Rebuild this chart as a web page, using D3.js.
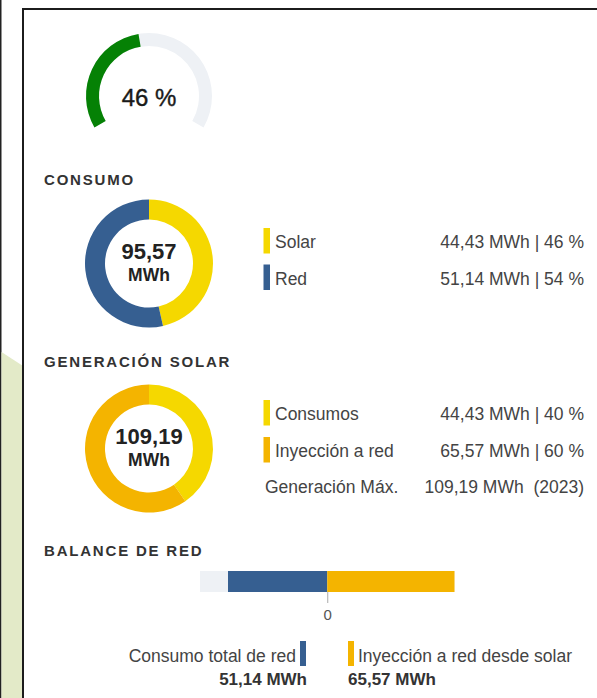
<!DOCTYPE html>
<html>
<head>
<meta charset="utf-8">
<style>
    body { margin: 0; background: #fff; }
    svg { display: block; font-family: Arial, 'Liberation Sans', sans-serif; }
    .heading { font-size: 15px; font-weight: bold; letter-spacing: 1.8px; fill: #333; }
    .lbl { font-size: 17.5px; fill: #444; }
    .center-val { font-weight: bold; fill: #222; text-anchor: middle; }
    .axis .domain { display: none; }
    .axis .tick line { stroke: #aaa; }
</style>
</head>
<body>
<svg width="597" height="698"></svg>
<script src="https://d3js.org/d3.v7.min.js"></script>
<script>
// data
const gaugeValue = 46;

const consumoLabels = ["Solar", "Red"];
const consumoValues = [44.43, 51.14];
const consumoPct = [46, 54];
const consumoTotal = 95.57;

const genLabels = ["Consumos", "Inyección a red"];
const genValues = [44.43, 65.57];
const genPct = [40, 60];
const genTotal = 109.19;
const genMax = 109.19;
const genMaxYear = 2023;

const balanceLabels = ["Consumo total de red", "Inyección a red desde solar"];
const balanceValues = [-51.14, 65.57];
const balanceTicks = [0];

const headings = ["CONSUMO", "GENERACIÓN SOLAR", "BALANCE DE RED"];

const blue = "#365f91", yellow = "#f5d800", orange = "#f4b400", track = "#eef1f5";

const es = d3.formatLocale({ decimal: ",", thousands: ".", grouping: [3], currency: ["", "€"] });
const f2 = es.format(".2f");

const svg = d3.select("svg");

// page frame
svg.append("rect").attr("x", 0).attr("y", 0).attr("width", 1.5).attr("height", 698).attr("fill", "#222");
svg.append("path")
    .attr("d", "M1.5,352 L23,366 L23,698 L1.5,698 Z")
    .attr("fill", "#e3eac8");
svg.append("path")
    .attr("d", "M23,698 L23,9 L597,9")
    .attr("fill", "none").attr("stroke", "#1c1c1c").attr("stroke-width", 2);

// headings
const headY = [185, 367, 556];
svg.selectAll(".heading").data(headings).join("text")
    .attr("class", "heading")
    .attr("x", 44).attr("y", (d, i) => headY[i])
    .text(d => d);

// gauge
const gx = 149, gy = 96;
const ga = d3.scaleLinear().domain([0, 100]).range([-2 * Math.PI / 3, 2 * Math.PI / 3]);
const gArc = d3.arc().innerRadius(50).outerRadius(63);
const gauge = svg.append("g").attr("transform", `translate(${gx},${gy})`);
gauge.append("path").attr("d", gArc({ startAngle: ga(0), endAngle: ga(100) })).attr("fill", track);
gauge.append("path").attr("d", gArc({ startAngle: ga(0), endAngle: ga(gaugeValue) })).attr("fill", "#058105");
gauge.append("text").attr("y", 10).attr("text-anchor", "middle")
    .style("font-size", "24px").attr("fill", "#1a1a1a")
    .attr("stroke", "#1a1a1a").attr("stroke-width", 0.4)
    .text(gaugeValue + " %");

// donut helper
function donut(cy, values, colors, total) {
    const pie = d3.pie().sort(null).value(d => d);
    const arc = d3.arc().innerRadius(44).outerRadius(64);
    const g = svg.append("g").attr("transform", `translate(149,${cy})`);
    g.selectAll("path").data(pie(values)).join("path")
        .attr("d", arc)
        .attr("fill", (d, i) => colors[i]);
    g.append("text").attr("class", "center-val").attr("y", -5)
        .style("font-size", "22px").text(f2(total));
    g.append("text").attr("class", "center-val").attr("y", 17)
        .style("font-size", "17.5px").text("MWh");
}

function legend(rowsY, labels, values, pct, colors) {
    const g = svg.append("g");
    labels.forEach((l, i) => {
        g.append("rect").attr("x", 263.5).attr("y", rowsY[i] - 20).attr("width", 6.5).attr("height", 25.5).attr("fill", colors[i]);
        g.append("text").attr("class", "lbl").attr("x", 275).attr("y", rowsY[i]).text(l);
        g.append("text").attr("class", "lbl").attr("x", 584).attr("y", rowsY[i])
            .attr("text-anchor", "end")
            .text(`${f2(values[i])} MWh | ${pct[i]} %`);
    });
}

donut(263.5, consumoValues, [yellow, blue], consumoTotal);
legend([248, 284.5], consumoLabels, consumoValues, consumoPct, [yellow, blue]);

donut(448.5, genValues, [yellow, orange], genTotal);
legend([420, 457], genLabels, genValues, genPct, [yellow, orange]);
svg.append("text").attr("class", "lbl").attr("x", 265).attr("y", 493).text("Generación Máx.");
svg.append("text").attr("class", "lbl").attr("x", 584).attr("y", 493).attr("text-anchor", "end")
    .attr("xml:space", "preserve")
    .text(`${f2(genMax)} MWh  (${genMaxYear})`);

// balance bar
const bmax = d3.max(balanceValues, d => Math.abs(d));
const bx = d3.scaleLinear().domain([-bmax, bmax]).range([200, 454.5]);
const by = 571, bh = 21;
svg.append("rect").attr("x", bx(-bmax)).attr("y", by).attr("width", bx(bmax) - bx(-bmax)).attr("height", bh).attr("fill", track);
svg.selectAll(".bal").data(balanceValues).join("rect")
    .attr("class", "bal")
    .attr("x", d => bx(Math.min(0, d)))
    .attr("y", by)
    .attr("width", d => Math.abs(bx(d) - bx(0)))
    .attr("height", bh)
    .attr("fill", (d, i) => i === 0 ? blue : orange);

const axis = svg.append("g").attr("class", "axis")
    .attr("transform", `translate(0,${by + bh})`)
    .call(d3.axisBottom(bx).tickValues(balanceTicks).tickSize(11).tickPadding(6).tickFormat(d3.format("d")));
axis.selectAll(".tick text")
    .style("font-size", "15px")
    .style("font-family", "Arial, 'Liberation Sans', sans-serif")
    .attr("fill", "#555");

// balance legend
svg.append("text").attr("class", "lbl").attr("x", 296).attr("y", 662).attr("text-anchor", "end").text(balanceLabels[0]);
svg.append("rect").attr("x", 300).attr("y", 641).attr("width", 6).attr("height", 25).attr("fill", blue);
svg.append("rect").attr("x", 348).attr("y", 641).attr("width", 6).attr("height", 25).attr("fill", orange);
svg.append("text").attr("class", "lbl").attr("x", 358).attr("y", 662).text(balanceLabels[1]);
svg.append("text").attr("x", 307).attr("y", 685).attr("text-anchor", "end")
    .style("font-size", "17px").style("font-weight", "bold").attr("fill", "#333")
    .text(f2(Math.abs(balanceValues[0])) + " MWh");
svg.append("text").attr("x", 348).attr("y", 685)
    .style("font-size", "17px").style("font-weight", "bold").attr("fill", "#333")
    .text(f2(balanceValues[1]) + " MWh");
</script>
</body>
</html>
